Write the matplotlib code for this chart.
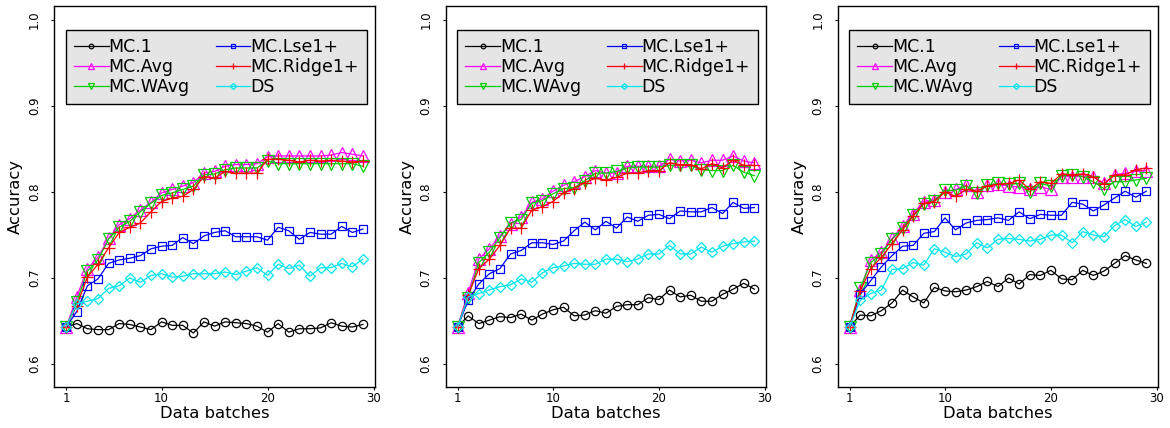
import matplotlib
matplotlib.use("Agg")
import matplotlib.pyplot as plt

batches = list(range(1, 30))
xticks = [1, 10, 20, 30]
yticks = [0.6, 0.7, 0.8, 0.9, 1.0]

# --- panel 1 ---
mc1_a = [0.643, 0.647, 0.641, 0.640, 0.640, 0.647, 0.646, 0.643, 0.640, 0.649, 0.645, 0.645, 0.636, 0.649, 0.644,
         0.649, 0.648, 0.647, 0.644, 0.637, 0.647, 0.637, 0.641, 0.641, 0.642, 0.648, 0.644, 0.643, 0.646]
avg_a = [0.643, 0.678, 0.711, 0.724, 0.746, 0.762, 0.769, 0.779, 0.788, 0.799, 0.803, 0.807, 0.811, 0.822, 0.824,
         0.830, 0.832, 0.832, 0.833, 0.841, 0.842, 0.842, 0.842, 0.842, 0.842, 0.843, 0.846, 0.844, 0.842]
wavg_a = [0.643, 0.672, 0.708, 0.721, 0.745, 0.759, 0.766, 0.777, 0.787, 0.796, 0.799, 0.803, 0.807, 0.820, 0.821,
          0.826, 0.828, 0.828, 0.828, 0.836, 0.833, 0.833, 0.833, 0.833, 0.833, 0.833, 0.833, 0.833, 0.830]
lse_a = [0.643, 0.661, 0.691, 0.699, 0.717, 0.721, 0.723, 0.726, 0.734, 0.737, 0.738, 0.747, 0.740, 0.749, 0.753,
         0.755, 0.748, 0.748, 0.748, 0.744, 0.759, 0.755, 0.745, 0.753, 0.751, 0.751, 0.760, 0.753, 0.757]
ridge_a = [0.643, 0.668, 0.701, 0.716, 0.735, 0.753, 0.759, 0.764, 0.777, 0.789, 0.793, 0.795, 0.803, 0.818, 0.816,
           0.824, 0.822, 0.822, 0.822, 0.838, 0.838, 0.837, 0.835, 0.837, 0.836, 0.837, 0.836, 0.835, 0.836]
ds_a = [0.643, 0.670, 0.673, 0.676, 0.688, 0.691, 0.700, 0.695, 0.703, 0.705, 0.701, 0.702, 0.705, 0.705, 0.705,
        0.707, 0.704, 0.708, 0.712, 0.703, 0.716, 0.711, 0.715, 0.702, 0.712, 0.712, 0.717, 0.713, 0.722]

# --- panel 2 ---
mc1_b = [0.643, 0.656, 0.647, 0.651, 0.655, 0.654, 0.658, 0.651, 0.658, 0.663, 0.666, 0.656, 0.657, 0.662, 0.659,
         0.667, 0.669, 0.669, 0.677, 0.675, 0.686, 0.678, 0.680, 0.673, 0.673, 0.681, 0.687, 0.694, 0.687]
avg_b = [0.643, 0.683, 0.722, 0.734, 0.749, 0.763, 0.771, 0.788, 0.792, 0.801, 0.808, 0.812, 0.818, 0.825, 0.822,
         0.822, 0.830, 0.830, 0.830, 0.830, 0.838, 0.836, 0.837, 0.834, 0.837, 0.837, 0.842, 0.836, 0.834]
wavg_b = [0.643, 0.677, 0.718, 0.730, 0.747, 0.764, 0.768, 0.787, 0.790, 0.798, 0.804, 0.805, 0.813, 0.822, 0.822,
          0.824, 0.828, 0.829, 0.829, 0.829, 0.831, 0.831, 0.831, 0.826, 0.825, 0.825, 0.831, 0.823, 0.819]
lse_b = [0.643, 0.674, 0.693, 0.705, 0.711, 0.728, 0.732, 0.741, 0.741, 0.739, 0.743, 0.755, 0.765, 0.756, 0.766,
         0.758, 0.771, 0.766, 0.773, 0.774, 0.769, 0.778, 0.777, 0.777, 0.782, 0.775, 0.788, 0.781, 0.782]
ridge_b = [0.643, 0.680, 0.711, 0.722, 0.738, 0.758, 0.758, 0.779, 0.783, 0.789, 0.799, 0.804, 0.811, 0.816, 0.814,
           0.817, 0.822, 0.822, 0.825, 0.825, 0.834, 0.832, 0.832, 0.827, 0.833, 0.828, 0.837, 0.831, 0.831]
ds_b = [0.643, 0.678, 0.682, 0.686, 0.690, 0.692, 0.699, 0.695, 0.706, 0.712, 0.714, 0.717, 0.716, 0.716, 0.722,
        0.722, 0.719, 0.722, 0.728, 0.728, 0.738, 0.728, 0.728, 0.736, 0.730, 0.737, 0.740, 0.742, 0.743]

# --- panel 3 ---
mc1_c = [0.643, 0.657, 0.656, 0.662, 0.671, 0.686, 0.678, 0.671, 0.689, 0.685, 0.684, 0.686, 0.690, 0.696, 0.690,
         0.700, 0.693, 0.704, 0.703, 0.709, 0.699, 0.698, 0.709, 0.703, 0.708, 0.717, 0.726, 0.721, 0.717]
avg_c = [0.643, 0.686, 0.721, 0.730, 0.746, 0.760, 0.775, 0.789, 0.791, 0.800, 0.803, 0.808, 0.800, 0.808, 0.809,
         0.807, 0.806, 0.804, 0.806, 0.803, 0.818, 0.818, 0.818, 0.818, 0.810, 0.820, 0.822, 0.824, 0.825]
wavg_c = [0.643, 0.688, 0.718, 0.728, 0.745, 0.758, 0.773, 0.786, 0.790, 0.802, 0.802, 0.807, 0.799, 0.808, 0.810,
          0.809, 0.810, 0.800, 0.810, 0.807, 0.819, 0.820, 0.818, 0.812, 0.804, 0.812, 0.812, 0.814, 0.816]
lse_c = [0.643, 0.681, 0.697, 0.713, 0.726, 0.737, 0.738, 0.752, 0.754, 0.770, 0.756, 0.764, 0.767, 0.768, 0.770,
         0.767, 0.777, 0.769, 0.774, 0.773, 0.773, 0.788, 0.786, 0.778, 0.785, 0.793, 0.801, 0.794, 0.801]
ridge_c = [0.643, 0.685, 0.711, 0.724, 0.740, 0.756, 0.772, 0.787, 0.789, 0.800, 0.795, 0.803, 0.801, 0.807, 0.809,
           0.810, 0.814, 0.803, 0.812, 0.810, 0.821, 0.820, 0.821, 0.818, 0.809, 0.820, 0.820, 0.826, 0.828]
ds_c = [0.643, 0.674, 0.682, 0.686, 0.710, 0.711, 0.718, 0.715, 0.734, 0.730, 0.725, 0.728, 0.741, 0.735, 0.745,
        0.746, 0.745, 0.743, 0.745, 0.750, 0.750, 0.741, 0.754, 0.750, 0.748, 0.761, 0.768, 0.760, 0.765]

labels = ["MC.1", "MC.Avg", "MC.WAvg", "MC.Lse1+", "MC.Ridge1+", "DS"]
colors = ["black", "#FF00FF", "#00CD00", "#0000FF", "#FF0000", "#00E5EE"]
markers = ["o", "^", "v", "s", "+", "D"]
msizes = [6, 8, 8, 6, 8.5, 5.6]

panels = [
    [mc1_a, avg_a, wavg_a, lse_a, ridge_a, ds_a],
    [mc1_b, avg_b, wavg_b, lse_b, ridge_b, ds_b],
    [mc1_c, avg_c, wavg_c, lse_c, ridge_c, ds_c],
]
lefts = [54.3, 445.7, 837.7]

W, H = 1170, 428
fig = plt.figure(figsize=(W / 100, H / 100), dpi=100)

for left, series in zip(lefts, panels):
    ax = fig.add_axes([left / W, 1 - 386.7 / H, 320.5 / W, 380.7 / H])
    for ys, lab, c, m, ms in zip(series, labels, colors, markers, msizes):
        ax.plot(batches, ys, color=c, lw=0.9, marker=m, ms=ms, mfc="none",
                mec=c, mew=0.9, label=lab)
    ax.set_xlim(-0.12, 30.12)
    ax.set_ylim(0.5736, 1.0164)
    ax.set_xticks(xticks)
    ax.set_yticks(yticks)
    ax.set_yticklabels([f"{v:.1f}" for v in yticks])
    ax.tick_params(axis="x", length=2, width=0.8, pad=1.5, labelsize=8.5)
    ax.tick_params(axis="y", length=2.5, width=0.8, pad=7, labelsize=8.5, labelrotation=90)
    for lbl in ax.get_yticklabels():
        lbl.set_va("center")
    for s in ax.spines.values():
        s.set_linewidth(1.0)
    ax.set_xlabel("Data batches", fontsize=11.8)
    ax.xaxis.set_label_coords(0.5, -0.082)
    ax.xaxis.label.set_va("baseline")
    ax.set_ylabel("Accuracy", fontsize=11.8)
    ax.yaxis.set_label_coords(-0.12, 0.5)
    ax.yaxis.label.set_va("center")
    leg = ax.legend(ncol=2, loc="lower left", bbox_to_anchor=(0.0365, 0.743, 0.938, 0.197),
                    mode="expand", fontsize=12.5, frameon=True, fancybox=False,
                    facecolor="#e5e5e5", edgecolor="black", framealpha=1,
                    handlelength=2.0, handletextpad=0.0, markerscale=0.55,
                    borderpad=0.45, labelspacing=0.12, borderaxespad=0)
    leg.get_frame().set_linewidth(1.0)

fig.savefig("out.png", dpi=100)
